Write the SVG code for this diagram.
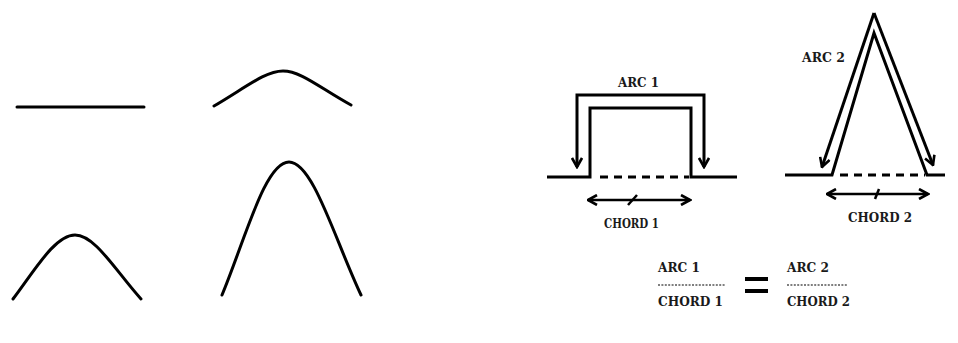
<svg xmlns="http://www.w3.org/2000/svg" width="958" height="343" viewBox="0 0 958 343">
<style>
.ln{fill:none;stroke:#000;stroke-width:3;stroke-linecap:round;stroke-linejoin:round}
.sq{fill:none;stroke:#000;stroke-width:3;stroke-linejoin:miter}
.ds{fill:none;stroke:#000;stroke-width:3;stroke-dasharray:8 6}
.dt{fill:none;stroke:#000;stroke-width:1.2;stroke-dasharray:2 1.4}
.ar{fill:none;stroke:#000;stroke-width:3}
.ar2{fill:none;stroke:#000;stroke-width:2.5}
.t{font-family:"DejaVu Serif","Liberation Serif",serif;font-weight:bold;font-size:13px;fill:#1a1a1a}
</style>
<defs>
<marker id="ah" viewBox="0 0 12 12" refX="10.5" refY="6" markerWidth="12" markerHeight="12" markerUnits="userSpaceOnUse" orient="auto-start-reverse">
<path d="M1.5,1 L10.5,6 L1.5,11" fill="none" stroke="#000" stroke-width="2.6"/>
</marker>
</defs>
<g id="curves">
<path class="ln" d="M17,107 L144,107"/>
<path class="ln" d="M214,106 C245,88 265,71 283,71 C301,71 320,88 351,105"/>
<path class="ln" d="M13,299 C35,270 55,235 75,235 C95,235 115,270 141,299"/>
<path class="ln" d="M222,295 C245,240 265,162 289,162 C313,162 335,240 361,295"/>
</g>
<g id="connectors">
<path class="sq" d="M547,177 L590,177 L590,108 L691,108 L691,177 L737,177"/>
<path class="ds" d="M600,177 L689,177"/>
<path class="ar" marker-start="url(#ah)" marker-end="url(#ah)" d="M577,167 L577,95 L704,95 L704,167"/>
<path class="ar2" marker-start="url(#ah)" marker-end="url(#ah)" d="M588,200 L690,200"/>
<path class="ar2" d="M628,205 L637,195"/>
<path class="sq" d="M785,175 L832,175 L874,33 L927,175 L945,175"/>
<path class="ds" d="M840,175 L925,175"/>
<path class="ar" marker-end="url(#ah)" d="M874,13 L822,167"/>
<path class="ar" marker-end="url(#ah)" d="M874,13 L933,165"/>
<path class="ar2" marker-start="url(#ah)" marker-end="url(#ah)" d="M827,194 L928,194"/>
<path class="ar2" d="M875,199 L879,189"/>
<path class="dt" d="M658,285 L725,285"/>
<path class="dt" d="M787,285 L848,285"/>
</g>
<g id="equals">
<path stroke="#000" stroke-width="4" d="M745,279 L768,279 M745,291 L768,291"/>
</g>
<g id="labels">
<text class="t" x="618" y="87" textLength="41" lengthAdjust="spacingAndGlyphs">ARC 1</text>
<text class="t" x="604" y="228" textLength="55" lengthAdjust="spacingAndGlyphs">CHORD 1</text>
<text class="t" x="802" y="62" textLength="43" lengthAdjust="spacingAndGlyphs">ARC 2</text>
<text class="t" x="848" y="222" textLength="64" lengthAdjust="spacingAndGlyphs">CHORD 2</text>
<text class="t" x="658" y="272" textLength="42" lengthAdjust="spacingAndGlyphs">ARC 1</text>
<text class="t" x="658" y="306" textLength="65" lengthAdjust="spacingAndGlyphs">CHORD 1</text>
<text class="t" x="787" y="272" textLength="42" lengthAdjust="spacingAndGlyphs">ARC 2</text>
<text class="t" x="787" y="306" textLength="63" lengthAdjust="spacingAndGlyphs">CHORD 2</text>
</g>
</svg>
